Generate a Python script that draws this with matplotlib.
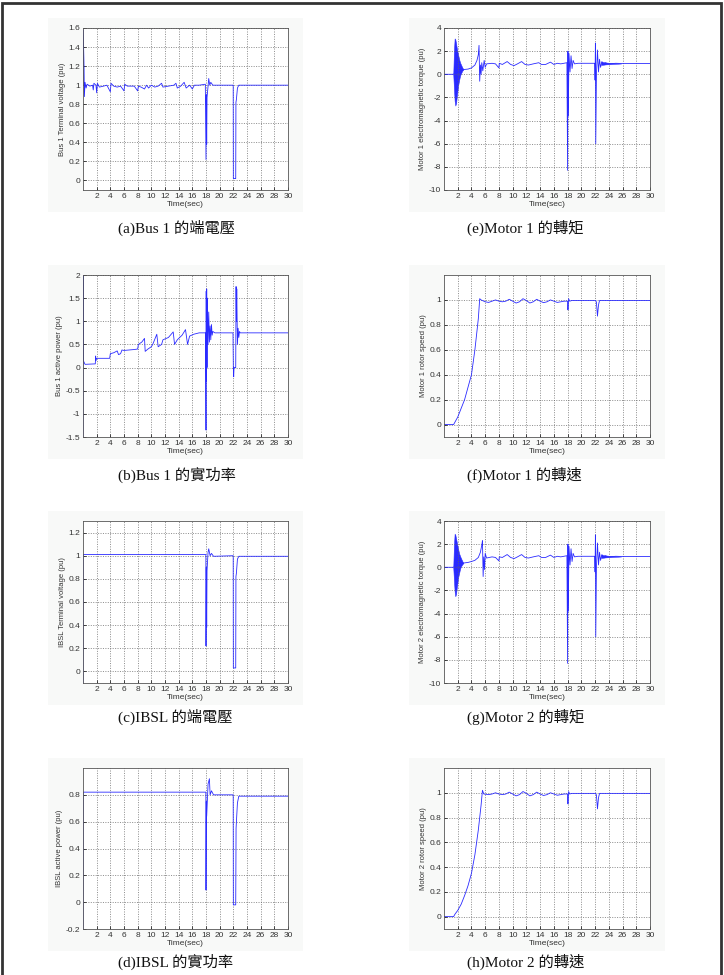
import matplotlib
matplotlib.use("Agg")
import matplotlib.pyplot as plt
from matplotlib.patches import Rectangle
from matplotlib.ticker import FormatStrFormatter

# (a) Bus 1 terminal voltage
t_a = [0, 0.03, 0.15, 0.2, 0.3, 0.45, 0.6, 1.0, 1.4, 1.5, 1.6, 1.9, 2.0, 2.1, 2.4, 3.0, 3.5, 4.0, 4.1,
       4.5, 5.0, 5.5, 6.0, 6.1, 6.5, 7.0, 7.5, 8.0, 8.1, 8.5, 9.0, 9.3, 9.6, 10.0, 10.5, 11.0, 11.5, 11.7,
       12.5, 13.3, 13.6, 13.8, 14.3, 14.8, 15.1, 15.6, 16.0, 16.3, 17.0, 17.9, 18.0, 18.05, 18.1, 18.15,
       18.4, 18.55, 18.7, 19.0, 21.98, 22.0, 22.35, 22.38, 22.45, 22.6, 22.8, 30]
v_a = [1.0, 1.58, 1.2, 0.88, 1.03, 0.97, 1.01, 0.99, 1.0, 0.95, 1.02, 1.0, 0.92, 1.02, 0.98, 0.99, 1.0, 0.93,
       1.02, 0.99, 0.98, 0.99, 0.94, 1.01, 0.99, 0.99, 0.99, 0.94, 0.99, 0.98, 0.96, 1.0, 0.97, 1.0, 0.98,
       0.99, 1.02, 0.98, 0.99, 1.0, 1.02, 0.97, 0.99, 1.03, 0.97, 1.0, 0.96, 1.0, 1.0, 1.01, 0.22, 0.9,
       0.38, 0.87, 1.07, 1.0, 1.03, 1.0, 1.0, 0.02, 0.02, 0.82, 0.85, 0.97, 1.0, 1.0]

# (b) Bus 1 active power
t_b = [0, 0.02, 0.05, 0.2, 0.3, 1.8, 1.85, 1.9, 2.0, 3.9, 4.0, 4.5, 5.0, 5.2, 5.5, 5.7, 6.0, 7.5, 8.0, 8.1,
       8.6, 9.0, 9.1, 9.5, 10.0, 10.2, 10.8, 11.0, 11.5, 11.7, 12.5, 13.2, 13.4, 13.8, 14.5, 15.0, 15.3,
       15.6, 16.2, 17.0, 17.95, 18.0, 18.03, 18.06, 18.1, 18.15, 18.2, 18.3, 18.4, 18.5, 18.6, 18.7, 18.8,
       18.9, 19.0, 19.3, 21.95, 22.0, 22.05, 22.1, 22.35, 22.4, 22.45, 22.5, 22.6, 22.7, 22.8, 22.9, 23.0, 30]
p_b = [-1.5, 2.0, 0.15, 0.1, 0.07, 0.08, 0.25, 0.15, 0.2, 0.2, 0.3, 0.32, 0.36, 0.28, 0.3, 0.38, 0.37, 0.39,
       0.4, 0.5, 0.55, 0.63, 0.35, 0.4, 0.45, 0.5, 0.72, 0.45, 0.5, 0.6, 0.65, 0.77, 0.5, 0.6, 0.7, 0.82,
       0.5, 0.68, 0.72, 0.75, 0.75, -1.35, 1.65, -0.3, 1.7, 0.0, 1.5, 0.5, 1.2, 0.55, 0.9, 0.6, 0.93,
       0.7, 0.78, 0.75, 0.75, 0.0, -0.2, 0.0, 0.0, 1.75, 1.0, 1.7, 0.5, 0.85, 0.65, 0.78, 0.75, 0.75]

# (c) IBSL terminal voltage
t_c = [0, 0.02, 17.98, 18.0, 18.05, 18.1, 18.15, 18.3, 18.4, 18.6, 18.8, 19.1, 21.98, 22.0, 22.35, 22.38,
       22.45, 22.6, 22.8, 30]
v_c = [-0.1, 1.01, 1.01, 0.22, 0.9, 0.38, 0.87, 1.03, 1.06, 1.0, 1.02, 0.995, 1.0, 0.03, 0.03, 0.82,
       0.85, 0.97, 0.995, 0.995]

# (d) IBSL active power
t_d = [0, 0.02, 17.98, 18.0, 18.05, 18.1, 18.3, 18.5, 18.6, 18.8, 19.1, 21.98, 22.0, 22.35, 22.4, 22.6,
       22.8, 30]
p_d = [-0.2, 0.82, 0.82, 0.09, 0.75, 0.64, 0.88, 0.92, 0.8, 0.83, 0.8, 0.8, -0.02, -0.02, 0.55, 0.74,
       0.79, 0.79]

# (e) Motor 1 torque: dense start-up oscillation as envelope, rest as line
blob_t1 = [1.35, 1.45, 1.55, 1.65, 1.75, 1.85, 1.95, 2.05, 2.2, 2.35, 2.5, 2.65, 2.8]
blob_hi1 = [0, 2.0, 3.1, 3.0, 2.7, 2.3, 2.0, 1.7, 1.3, 1.0, 0.8, 0.6, 0.45]
blob_lo1 = [0, -1.2, -2.3, -2.7, -2.5, -2.0, -1.5, -1.0, -0.5, -0.1, 0.1, 0.3, 0.4]
t_e = [0, 1.35, 2.8, 3.0, 3.5, 4.0, 4.5, 4.8, 5.0, 5.1, 5.2, 5.3, 5.4, 5.5, 5.65, 5.85, 6.0, 6.2, 7.0,
       7.5, 8.0, 8.05, 8.5, 9.2, 9.7, 10.2, 10.7, 11.3, 11.8, 12.3, 13.0, 13.8, 14.2, 14.8, 15.5, 16.0,
       16.5, 17.0, 17.9, 18.0, 18.05, 18.1, 18.2, 18.35, 18.5, 18.65, 18.8, 19.0, 19.5, 21.95, 22.0,
       22.05, 22.1, 22.2, 22.35, 22.5, 22.65, 22.8, 23.0, 23.2, 23.5, 24.0, 25.0, 26.0, 30]
q_e = [0, 0, 0.4, 0.42, 0.45, 0.55, 0.8, 1.2, 1.7, 2.5, -0.6, 0.8, 0.0, 1.0, 0.3, 1.2, 0.6, 0.9, 0.95,
       0.9, 0.55, 0.95, 0.85, 1.1, 0.85, 0.75, 0.9, 1.1, 0.85, 0.8, 0.9, 1.0, 0.85, 0.85, 1.05, 0.85,
       0.95, 0.9, 1.0, -8.3, 2.0, -3.6, 1.8, 0.2, 1.6, 0.5, 1.2, 0.9, 0.95, 0.95, -0.5,
       2.7, -6.0, 0.0, 2.1, 0.2, 1.3, 0.6, 1.1, 0.85, 1.0, 0.9, 0.95, 0.93, 0.93]
band_t1 = [22.9, 23.5, 24.0, 25.0, 25.8]
band_hi1 = [1.1, 1.02, 1.0, 0.97, 0.93]
band_lo1 = [0.8, 0.85, 0.87, 0.9, 0.93]

# (f) Motor 1 rotor speed
t_f = [0, 1.4, 1.6, 2.0, 2.5, 3.0, 3.5, 4.0, 4.5, 5.0, 5.2, 5.4, 6.0, 6.5, 7.0, 7.5, 8.0, 8.5, 9.0, 9.5,
       10.0, 10.5, 11.0, 11.5, 12.0, 12.5, 13.0, 13.5, 14.0, 14.5, 15.0, 15.5, 16.0, 16.5, 17.0, 17.5,
       18.0, 18.05, 18.1, 18.15, 18.3, 18.6, 22.1, 22.2, 22.35, 22.5, 22.65, 30]
w_f = [0, 0, 0.02, 0.06, 0.13, 0.2, 0.3, 0.4, 0.6, 0.85, 1.01, 1.0, 0.985, 0.98, 0.99, 1.0, 0.99, 0.985,
       0.99, 1.005, 0.99, 0.975, 0.985, 1.01, 0.995, 0.975, 0.985, 1.005, 0.99, 0.978, 0.985, 1.0,
       0.99, 0.98, 0.985, 0.99, 0.99, 0.92, 0.97, 1.01, 0.99, 0.995, 0.995, 0.98, 0.87, 0.96, 0.995, 0.995]

# (g) Motor 2 torque
blob_t2 = [1.35, 1.45, 1.55, 1.65, 1.75, 1.85, 1.95, 2.05, 2.2, 2.35, 2.5, 2.65, 2.8]
blob_hi2 = [0, 1.9, 2.9, 2.8, 2.5, 2.2, 1.9, 1.6, 1.2, 0.95, 0.75, 0.55, 0.4]
blob_lo2 = [0, -1.1, -2.1, -2.5, -2.3, -1.8, -1.4, -0.9, -0.5, -0.1, 0.1, 0.25, 0.35]
t_g = [0, 1.35, 2.8, 3.0, 3.5, 4.0, 4.5, 5.0, 5.3, 5.5, 5.6, 5.7, 5.8, 5.9, 6.0, 6.2, 7.0, 7.5, 8.0,
       8.05, 8.5, 9.2, 9.7, 10.2, 10.7, 11.3, 11.8, 12.3, 13.0, 13.8, 14.2, 14.8, 15.5, 16.0, 16.5, 17.0,
       17.9, 18.0, 18.05, 18.1, 18.2, 18.35, 18.5, 18.65, 18.8, 19.0, 19.5, 21.95, 22.0, 22.05, 22.1,
       22.2, 22.35, 22.5, 22.65, 22.8, 23.0, 23.2, 23.5, 24.0, 25.0, 26.0, 30]
q_g = [0, 0, 0.35, 0.38, 0.42, 0.5, 0.6, 0.85, 1.3, 1.9, 2.3, -0.8, 0.9, -0.2, 1.2, 0.8, 0.9, 0.85,
       0.55, 0.9, 0.85, 1.1, 0.85, 0.75, 0.9, 1.1, 0.85, 0.8, 0.9, 1.0, 0.85, 0.85, 1.05, 0.85, 0.95, 0.9,
       1.0, -8.3, 2.0, -3.8, 1.8, 0.2, 1.6, 0.5, 1.2, 0.9, 0.95, 0.95, -0.4, 2.8, -6.0, 0.0, 2.1,
       0.2, 1.3, 0.6, 1.1, 0.85, 1.0, 0.9, 0.95, 0.93, 0.93]
band_t2 = [22.9, 23.5, 24.0, 25.0, 25.8]
band_hi2 = [1.1, 1.02, 1.0, 0.97, 0.93]
band_lo2 = [0.8, 0.85, 0.87, 0.9, 0.93]

# (h) Motor 2 rotor speed
t_h = [0, 1.4, 1.6, 2.0, 2.5, 3.0, 3.5, 4.0, 4.5, 5.0, 5.4, 5.6, 5.8, 6.5, 7.0, 7.5, 8.0, 8.5, 9.0, 9.5,
       10.0, 10.5, 11.0, 11.5, 12.0, 12.5, 13.0, 13.5, 14.0, 14.5, 15.0, 15.5, 16.0, 16.5, 17.0, 17.5,
       18.0, 18.05, 18.1, 18.15, 18.3, 18.6, 22.1, 22.2, 22.35, 22.5, 22.65, 30]
w_h = [0, 0, 0.02, 0.05, 0.1, 0.17, 0.25, 0.35, 0.5, 0.7, 0.9, 1.02, 0.99, 0.985, 0.99, 1.0, 0.99,
       0.985, 0.99, 1.005, 0.99, 0.975, 0.985, 1.01, 0.995, 0.975, 0.985, 1.005, 0.99, 0.978, 0.985, 1.0,
       0.99, 0.98, 0.985, 0.99, 0.99, 0.91, 0.97, 1.01, 0.99, 0.995, 0.995, 0.98, 0.87, 0.96, 0.995, 0.995]

captions = ["(a)Bus 1 的端電壓", "(b)Bus 1 的實功率", "(c)IBSL 的端電壓", "(d)IBSL 的實功率",
            "(e)Motor 1 的轉矩", "(f)Motor 1 的轉速", "(g)Motor 2 的轉矩", "(h)Motor 2 的轉速"]
ylabels = ["Bus 1 Terminal voltage (pu)", "Bus 1 active power (pu)", "IBSL Terminal voltage (pu)",
           "IBSL active power (pu)", "Motor 1 electromagnetic torque (pu)", "Motor 1 rotor speed (pu)",
           "Motor 2 electromagnetic torque (pu)", "Motor 2 rotor speed (pu)"]
x_ticks = list(range(2, 31, 2))

plt.rcParams['font.family'] = ['Liberation Sans', 'DejaVu Sans']

W, H = 724, 975
fig = plt.figure(figsize=(W / 100, H / 100), dpi=100)
fig.patch.set_facecolor("white")

# outer frame
fig.patches.append(Rectangle((2 / W, -0.01), 719 / W, 1 - 3 / H + 0.01, transform=fig.transFigure,
                             fill=False, lw=2, ec="#333333", zorder=-1))

col_left = [83, 444]
col_w = [205, 206]
row_top = [28, 275, 521, 768]
row_bot = [190, 437, 683, 929]
cap_y = [228, 475, 717, 962]
cap_x = [118, 467]

LINE = "#2a2aff"


def make_axes(col, row):
    l, w = col_left[col], col_w[col]
    t, b = row_top[row], row_bot[row]
    # light grey matlab figure background
    fig.patches.append(Rectangle(((l - 35) / W, 1 - (b + 22) / H), (w + 50) / W, (b - t + 32) / H,
                                 transform=fig.transFigure, fc="#f8f9f8", ec="none", zorder=-2))
    ax = fig.add_axes([l / W, 1 - b / H, w / W, (b - t) / H], zorder=1)
    ax.set_xlim(0, 30)
    ax.set_xticks(x_ticks)
    ax.grid(True, ls=(0, (1.5, 2)), color="#666666", lw=0.5)
    ax.tick_params(direction="in", length=2, labelsize=6, labelcolor="#333333", width=0.5, pad=2)
    ax.yaxis.set_major_formatter(FormatStrFormatter("%g"))
    for s in ax.spines.values():
        s.set_linewidth(0.6)
        s.set_color("#555555")
    ax.set_xlabel("Time(sec)", fontsize=6, color="#333333", labelpad=1)
    idx = col * 4 + row
    ax.set_ylabel(ylabels[idx], fontsize=5.5, color="#333333", labelpad=2)
    fig.text(cap_x[col] / W, 1 - cap_y[row] / H, captions[idx], fontsize=11, va="center", ha="left",
             family=["Liberation Serif", "Noto Sans CJK TC"], color="#111111")
    return ax


ax = make_axes(0, 0)
ax.plot(t_a, v_a, color=LINE, lw=0.6)
ax.set_ylim(-0.1, 1.6)
ax.set_yticks([0, 0.2, 0.4, 0.6, 0.8, 1, 1.2, 1.4, 1.6])

ax = make_axes(0, 1)
ax.plot(t_b, p_b, color=LINE, lw=0.6)
ax.set_ylim(-1.5, 2)
ax.set_yticks([-1.5, -1, -0.5, 0, 0.5, 1, 1.5, 2])

ax = make_axes(0, 2)
ax.plot(t_c, v_c, color=LINE, lw=0.6)
ax.set_ylim(-0.1, 1.3)
ax.set_yticks([0, 0.2, 0.4, 0.6, 0.8, 1, 1.2])

ax = make_axes(0, 3)
ax.plot(t_d, p_d, color=LINE, lw=0.6)
ax.set_ylim(-0.2, 1.0)
ax.set_yticks([-0.2, 0, 0.2, 0.4, 0.6, 0.8])

ax = make_axes(1, 0)
ax.fill_between(blob_t1, blob_lo1, blob_hi1, color=LINE, lw=0.4)
ax.fill_between(band_t1, band_lo1, band_hi1, color=LINE, lw=0.3)
ax.plot(t_e, q_e, color=LINE, lw=0.6)
ax.set_ylim(-10, 4)
ax.set_yticks(range(-10, 5, 2))

ax = make_axes(1, 1)
ax.plot(t_f, w_f, color=LINE, lw=0.6)
ax.set_ylim(-0.1, 1.2)
ax.set_yticks([0, 0.2, 0.4, 0.6, 0.8, 1])

ax = make_axes(1, 2)
ax.fill_between(blob_t2, blob_lo2, blob_hi2, color=LINE, lw=0.4)
ax.fill_between(band_t2, band_lo2, band_hi2, color=LINE, lw=0.3)
ax.plot(t_g, q_g, color=LINE, lw=0.6)
ax.set_ylim(-10, 4)
ax.set_yticks(range(-10, 5, 2))

ax = make_axes(1, 3)
ax.plot(t_h, w_h, color=LINE, lw=0.6)
ax.set_ylim(-0.1, 1.2)
ax.set_yticks([0, 0.2, 0.4, 0.6, 0.8, 1])

plt.savefig("out.png", dpi=100)
